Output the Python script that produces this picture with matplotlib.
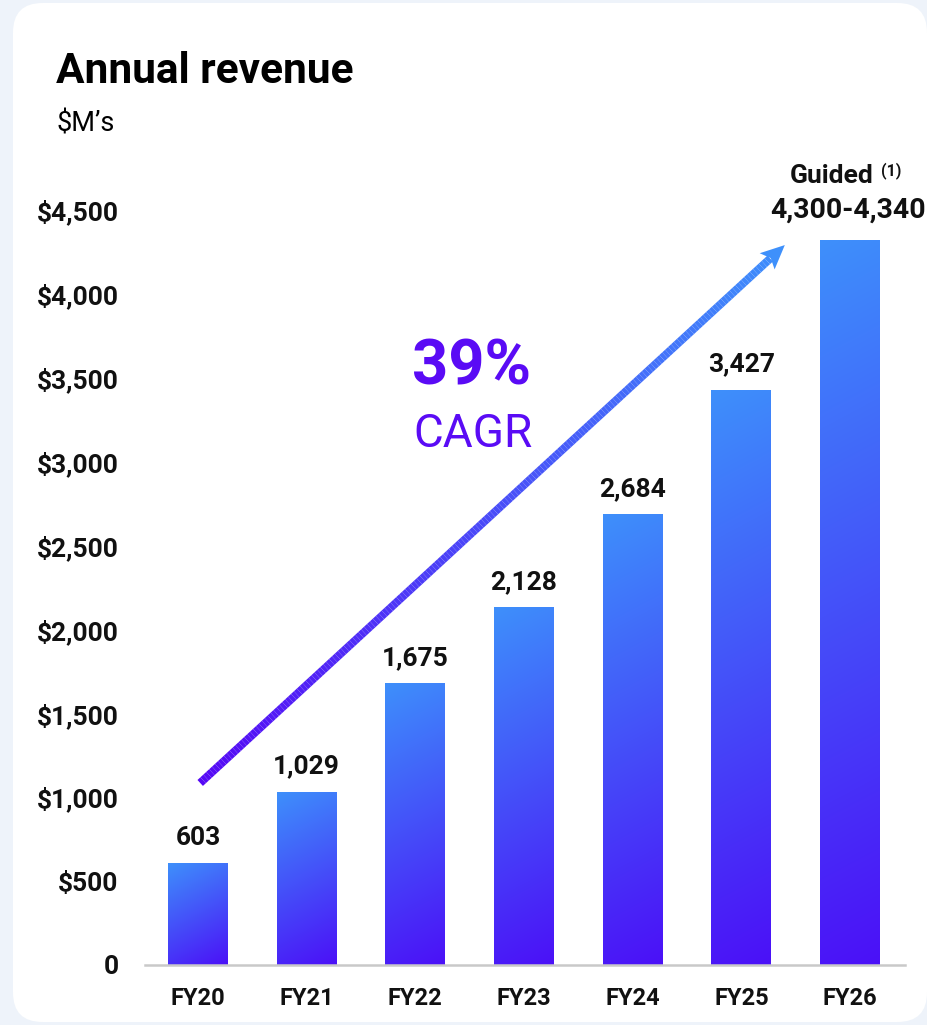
import numpy as np
import matplotlib
matplotlib.use("Agg")
import matplotlib.pyplot as plt
from matplotlib.patches import FancyBboxPatch, Polygon
from matplotlib.collections import LineCollection
from matplotlib.colors import to_rgb

# ---- data -------------------------------------------------------------
years = ["FY20", "FY21", "FY22", "FY23", "FY24", "FY25", "FY26"]
revenue = [603, 1029, 1675, 2128, 2684, 3427, 4320]   # FY26 = midpoint of guidance
value_labels = ["603", "1,029", "1,675", "2,128", "2,684", "3,427", None]
guide_low, guide_high = 4300, 4340
yticks = [0, 500, 1000, 1500, 2000, 2500, 3000, 3500, 4000, 4500]
ytick_labels = ["0", "$500", "$1,000", "$1,500", "$2,000", "$2,500",
                "$3,000", "$3,500", "$4,000", "$4,500"]
cagr_text = "39%"

# ---- style ------------------------------------------------------------
W, H, DPI = 927, 1025, 100
BLUE = np.array(to_rgb("#3e90fb"))
PURPLE = np.array(to_rgb("#4b10f7"))
ARROW_TAIL = np.array(to_rgb("#5509f5"))
ACCENT = "#5a0bf5"
TXT = "#111111"
plt.rcParams["font.family"] = ["Roboto", "DejaVu Sans"]

fig = plt.figure(figsize=(W / DPI, H / DPI), dpi=DPI)
fig.patch.set_facecolor("#eef3fa")

# white rounded card behind everything
card = FancyBboxPatch((13 / W, 3 / H), (W - 13) / W, (H - 6) / H,
                      boxstyle="round,pad=0,rounding_size=0.032",
                      transform=fig.transFigure, facecolor="white",
                      edgecolor="none", zorder=-10, mutation_aspect=W / H)
fig.patches.append(card)

# axes placement (pixels): x from 145 to 905, y baseline at 965, 4500 at 210
ax_l, ax_r, ax_b, ax_t = 145, 905, 965, 210
XMIN, XMAX = -0.488, 6.506
ax = fig.add_axes([ax_l / W, (H - ax_b) / H, (ax_r - ax_l) / W, (ax_b - ax_t) / H])
ax.set_facecolor("none")

x = np.arange(len(years))
bar_w = 0.552

# gradient-filled bars
px_per_x = (ax_r - ax_l) / (XMAX - XMIN)
px_per_y = (ax_b - ax_t) / 4500
angle = np.deg2rad(152)
d = np.array([np.sin(angle), -np.cos(angle)])  # screen coords, y down
for xi, v in zip(x, revenue):
    wpx = max(int(round(bar_w * px_per_x)), 2)
    hpx = max(int(round(v * px_per_y)), 2)
    xs = np.arange(wpx) + 0.5 - wpx / 2
    ys = np.arange(hpx) + 0.5 - hpx / 2
    XX, YY = np.meshgrid(xs, ys)
    L = abs(wpx * d[0]) + abs(hpx * d[1])
    t = np.clip((XX * d[0] + YY * d[1]) / L + 0.5, 0, 1)
    img = BLUE[None, None, :] * (1 - t[..., None]) + PURPLE[None, None, :] * t[..., None]
    ax.imshow(img, extent=[xi - bar_w / 2, xi + bar_w / 2, 0, v], origin="upper",
              aspect="auto", interpolation="bilinear", zorder=2)

ax.set_xlim(XMIN, XMAX)
ax.set_ylim(0, 4500)

# value labels
for xi, v, lab in zip(x, revenue, value_labels):
    if lab is None:
        continue
    ax.annotate(lab, (xi, v), xytext=(0, 13.5), textcoords="offset points",
                ha="center", va="baseline", fontsize=19, fontweight="bold",
                color=TXT, annotation_clip=False)

# guided range over last bar
ax.text(x[-1] - 0.17, 4660, "Guided", ha="center", va="baseline", fontsize=19,
        fontweight="bold", color=TXT, clip_on=False)
ax.text(x[-1] + 0.38, 4705, "(1)", ha="center", va="baseline", fontsize=11.5,
        fontweight="bold", color=TXT, clip_on=False)
ax.text(x[-1] - 0.02, 4452, f"{guide_low:,}-{guide_high:,}", ha="center",
        va="baseline", fontsize=20.5, fontweight="bold", color=TXT, clip_on=False)

# axes styling
ax.set_yticks(yticks)
ax.set_yticklabels(ytick_labels)
ax.set_xticks(x)
ax.set_xticklabels(years)
for lab in ax.get_yticklabels():
    lab.set_fontsize(19)
    lab.set_fontweight("bold")
    lab.set_color(TXT)
for lab in ax.get_xticklabels():
    lab.set_fontsize(17)
    lab.set_fontweight("bold")
    lab.set_color(TXT)
ax.tick_params(axis="y", length=0, pad=19)
ax.tick_params(axis="x", length=0, pad=16)
for s in ["left", "right", "top"]:
    ax.spines[s].set_visible(False)
ax.spines["bottom"].set_color("#c9c9c9")
ax.spines["bottom"].set_linewidth(1.8)
ax.spines["bottom"].set_zorder(3)

# CAGR arrow with colour gradient
x0, y0 = 0.02, 1085
x1, y1 = 5.40, 4291
n = 200
tt = np.linspace(0, 1, n + 1)
px = x0 + (x1 - x0) * tt
py = y0 + (y1 - y0) * tt
head_len_px = 24
seg_len_px = np.hypot((x1 - x0) * px_per_x, (y1 - y0) * px_per_y)
cut = 1 - head_len_px * 0.7 / seg_len_px
mask = tt <= cut
pts = np.column_stack([px[mask], py[mask]])
segs = np.stack([pts[:-1], pts[1:]], axis=1)
cols = [tuple(ARROW_TAIL * (1 - s) + BLUE * s) for s in tt[mask][:-1]]
lc = LineCollection(segs, colors=cols, linewidths=5.8, capstyle="butt", zorder=4)
ax.add_collection(lc)
# arrowhead built in pixel units, converted to data coords
ux = (x1 - x0) * px_per_x / seg_len_px
uy = (y1 - y0) * px_per_y / seg_len_px
tip = np.array([0.0, 0.0])
back = -head_len_px * np.array([ux, uy])
perp = np.array([-uy, ux]) * 11
tri_px = np.array([tip, back + perp, back * 0.8, back - perp])
tri = np.column_stack([x1 + tri_px[:, 0] / px_per_x, y1 + tri_px[:, 1] / px_per_y])
ax.add_patch(Polygon(tri, closed=True, facecolor=tuple(BLUE), edgecolor="none",
                     zorder=5, clip_on=False))

# CAGR label
ax.text(2.52, 3457, cagr_text, ha="center", va="baseline", fontsize=45.5,
        fontweight="bold", color=ACCENT, clip_on=False)
ax.text(2.53, 3087, "CAGR", ha="center", va="baseline", fontsize=33,
        color=ACCENT, clip_on=False)

# heading
fig.text(56 / W, 1 - 83 / H, "Annual revenue", ha="left", va="baseline",
         fontsize=30.5, fontweight="bold", color="#000000")
fig.text(56 / W, 1 - 132 / H, "$M\u2019s", ha="left", va="baseline",
         fontsize=19.5, color="#000000")

fig.savefig("out.png", dpi=DPI, facecolor=fig.get_facecolor())
